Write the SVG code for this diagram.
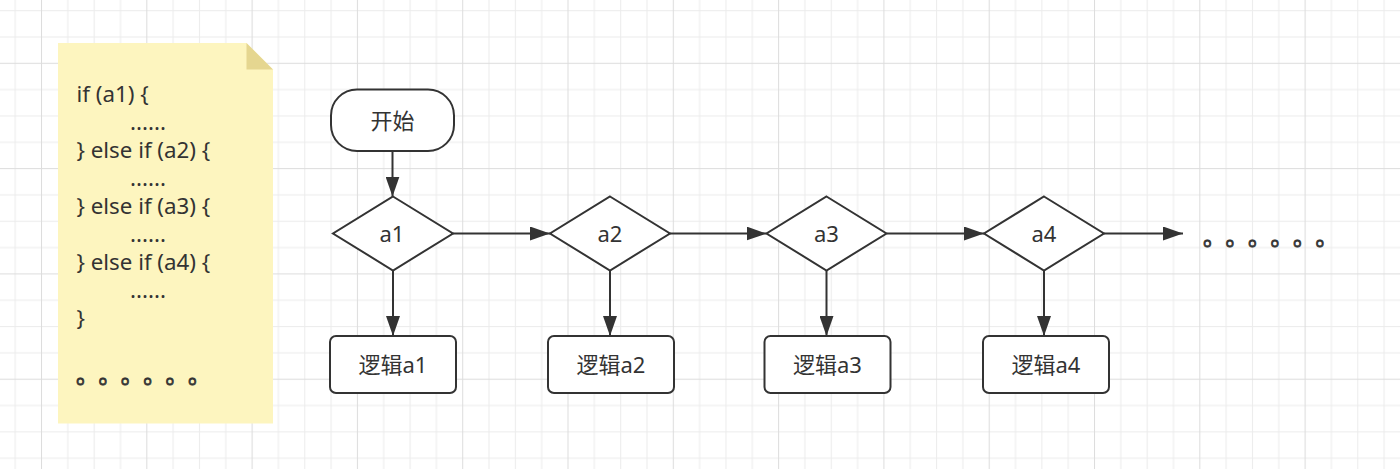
<svg xmlns="http://www.w3.org/2000/svg" width="1400" height="469" viewBox="0 0 1400 469">
  <defs>
    <pattern id="grid" patternUnits="userSpaceOnUse" x="41" y="62.8" width="105.3" height="105.3">
      <rect x="0" y="0" width="105.3" height="105.3" fill="#ffffff"/>
      <rect x="26.33" y="0" width="1" height="105.3" fill="#ececec"/>
      <rect x="52.65" y="0" width="1" height="105.3" fill="#ececec"/>
      <rect x="78.98" y="0" width="1" height="105.3" fill="#ececec"/>
      <rect x="0" y="26.33" width="105.3" height="1" fill="#ececec"/>
      <rect x="0" y="52.65" width="105.3" height="1" fill="#ececec"/>
      <rect x="0" y="78.98" width="105.3" height="1" fill="#ececec"/>
      <rect x="0" y="0" width="1" height="105.3" fill="#dddddd"/>
      <rect x="0" y="0" width="105.3" height="1" fill="#dddddd"/>
    </pattern>
    <marker id="arrow" markerUnits="userSpaceOnUse" markerWidth="20" markerHeight="14" refX="20" refY="7" orient="auto">
      <path d="M0,0 L20,7 L0,14 Z" fill="#333333"/>
    </marker>
  </defs>
  <style>
    .shape { fill: #ffffff; stroke: #333333; stroke-width: 2; }
    .edge { fill: none; stroke: #333333; stroke-width: 2; marker-end: url(#arrow); }
    .lbl { font-family: "Noto Sans", "Noto Sans CJK SC", sans-serif; font-size: 22px; fill: #333333; text-anchor: middle; }
    .note { font-family: "Noto Sans", "Noto Sans CJK SC", sans-serif; font-size: 22.3px; fill: #333333; }
    .dots { font-family: "Noto Sans CJK SC", sans-serif; font-size: 22.4px; fill: #333333; stroke: #333333; stroke-width: 0.8; }
  </style>

  <rect x="0" y="0" width="1400" height="469" fill="url(#grid)"/>

  <g id="note">
    <path d="M58,43 L246.5,43 L273,69.5 L273,423.5 L58,423.5 Z" fill="#fdf5bf"/>
    <path d="M246.5,43 L246.5,69.5 L273,69.5 Z" fill="#e5d690"/>
    <text class="note" x="76.5" y="101.5">if (a1) {</text>
    <text class="note" x="130" y="129.5">......</text>
    <text class="note" x="76.5" y="157.5">} else if (a2) {</text>
    <text class="note" x="130" y="185.5">......</text>
    <text class="note" x="76.5" y="213.5">} else if (a3) {</text>
    <text class="note" x="130" y="241.5">......</text>
    <text class="note" x="76.5" y="269.5">} else if (a4) {</text>
    <text class="note" x="130" y="297.5">......</text>
    <text class="note" x="76.5" y="325.5">}</text>
    <text class="dots" x="76 98.4 120.8 143.2 165.6 188" y="383">。。。。。。</text>
  </g>

  <g id="connectors">
    <path class="edge" d="M392.5,151 L392.5,196.5"/>
    <path class="edge" d="M453,233.5 L550,233.5"/>
    <path class="edge" d="M670,233.5 L766.5,233.5"/>
    <path class="edge" d="M886.5,233.5 L984,233.5"/>
    <path class="edge" d="M1104,233.5 L1183,233.5"/>
    <path class="edge" d="M393,270.5 L393,336"/>
    <path class="edge" d="M610,270.5 L610,336"/>
    <path class="edge" d="M826.5,270.5 L826.5,336"/>
    <path class="edge" d="M1044,270.5 L1044,336"/>
  </g>

  <g id="start">
    <rect class="shape" x="331" y="89.5" width="123" height="61.5" rx="26" ry="26"/>
    <text class="lbl" x="392.5" y="129">开始</text>
  </g>

  <g id="cond-a1">
    <path class="shape" d="M393,196.5 L453,233.5 L393,270.5 L333,233.5 Z"/>
    <text class="lbl" x="392" y="241.5">a1</text>
  </g>
  <g id="cond-a2">
    <path class="shape" d="M610,196.5 L670,233.5 L610,270.5 L550,233.5 Z"/>
    <text class="lbl" x="610" y="241.5">a2</text>
  </g>
  <g id="cond-a3">
    <path class="shape" d="M826.5,196.5 L886.5,233.5 L826.5,270.5 L766.5,233.5 Z"/>
    <text class="lbl" x="826.5" y="241.5">a3</text>
  </g>
  <g id="cond-a4">
    <path class="shape" d="M1044,196.5 L1104,233.5 L1044,270.5 L984,233.5 Z"/>
    <text class="lbl" x="1044" y="241.5">a4</text>
  </g>

  <g id="logic-a1">
    <rect class="shape" x="330" y="336" width="126" height="57" rx="6" ry="6"/>
    <text class="lbl" x="393" y="373">逻辑a1</text>
  </g>
  <g id="logic-a2">
    <rect class="shape" x="548" y="336" width="126" height="57" rx="6" ry="6"/>
    <text class="lbl" x="611" y="373">逻辑a2</text>
  </g>
  <g id="logic-a3">
    <rect class="shape" x="764.5" y="336" width="126" height="57" rx="6" ry="6"/>
    <text class="lbl" x="827.5" y="373">逻辑a3</text>
  </g>
  <g id="logic-a4">
    <rect class="shape" x="983" y="336" width="126" height="57" rx="6" ry="6"/>
    <text class="lbl" x="1046" y="373">逻辑a4</text>
  </g>

  <g id="more">
    <text class="dots" x="1203 1225.5 1248 1270.5 1293 1315.5" y="245">。。。。。。</text>
  </g>
</svg>
